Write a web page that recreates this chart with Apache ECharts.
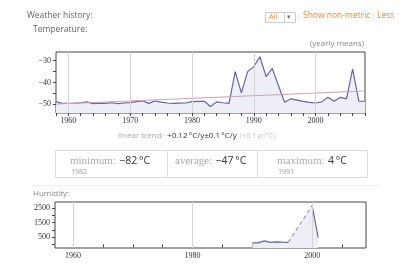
<!DOCTYPE html>
<html><head><meta charset="utf-8">
<script src="https://cdn.jsdelivr.net/npm/echarts@6/dist/echarts.min.js"></script>
<style>html,body{margin:0;padding:0;background:#fff}#c{width:420px;height:280px}</style>
</head><body><div id="c"></div>
<script>
// Temperature (yearly means, °C)
const tempYears = [1958,1959,1960,1961,1962,1963,1964,1965,1966,1967,1968,1969,1970,1971,1972,1973,1974,1975,1976,1977,1978,1979,1980,1981,1982,1983,1984,1985,1986,1987,1988,1989,1990,1991,1992,1993,1994,1995,1996,1997,1998,1999,2000,2001,2002,2003,2004,2005,2006,2007,2008];
const tempValues = [-48.8,-49.6,-49.6,-49.5,-49.3,-48.9,-49.7,-49.5,-49.6,-49.3,-49.7,-49.4,-49.2,-48.8,-48.4,-49.6,-48.5,-49.0,-49.4,-49.6,-49.5,-49.4,-48.8,-48.7,-48.6,-51.0,-48.9,-49.3,-49.6,-35.0,-44.8,-35.0,-32.7,-28.2,-37.3,-33.5,-41.5,-49.1,-47.5,-48.1,-48.7,-49.1,-49.4,-48.9,-46.8,-48.6,-46.8,-47.5,-33.8,-48.6,-48.6];
const trendYears = [1958, 2008];
const trendValues = [-49.9, -43.9];
const tempXLabels = [1960,1970,1980,1990,2000];
const tempXTicks = [1958,1960,1962,1964,1966,1968,1970,1972,1974,1976,1978,1980,1982,1984,1986,1988,1990,1992,1994,1996,1998,2000,2002,2004,2006,2008];
const tempYLabels = [-50,-40,-30];
const tempYTicks = [-50,-45,-40,-35,-30];
// Humidity
const humYearsA = [1990,1991,1992,1993,1994,1995,1996];
const humValuesA = [100,100,240,140,170,150,140];
const humYearsGap = [1996,2000];
const humValuesGap = [140,2680];
const humYearsB = [2000,2001];
const humValuesB = [2680,470];
const humXLabels = [1960,1980,2000];
const humXTicks = [1960,1965,1970,1975,1980,1985,1990,1995,2000,2005];
const humYLabels = [500,1500,2500];
const humYTicks = [0,500,1000,1500,2000,2500];

const pairs = (xs, ys) => xs.map((x, i) => [x, ys[i]]);
const LINE = '#66669a', FILL = '#eeeef7', GRIDC = '#d4d4d4', FRAME = '#444';
const SERIF = '"Liberation Serif", "DejaVu Serif", serif';
const SANS = '"Open Sans", "DejaVu Sans", sans-serif';
const ORANGE = '#e3893f';

const chart = echarts.init(document.getElementById('c'), null, {renderer: 'canvas'});
const vline = (vals) => ({
  silent: true, symbol: ['none','none'], label: {show: false},
  lineStyle: {color: GRIDC, width: 1, type: 'solid'},
  data: vals.map(v => ({xAxis: v}))
});
chart.setOption({
  animation: false,
  grid: [
    {left: 56, top: 52, width: 309, height: 61, show: true, borderColor: FRAME, borderWidth: 1, backgroundColor: 'transparent'},
    {left: 55, top: 202, width: 311, height: 46, show: true, borderColor: FRAME, borderWidth: 1, backgroundColor: 'transparent'}
  ],
  xAxis: [
    {type: 'value', gridIndex: 0, min: 1958, max: 2008,
     axisLine: {show: false}, splitLine: {show: false},
     axisTick: {show: true, inside: false, length: 3, lineStyle: {color: FRAME}, customValues: tempXTicks},
     axisLabel: {customValues: tempXLabels, margin: 4, color: '#333', fontFamily: SERIF, fontSize: 8, formatter: v => String(v)}},
    {type: 'value', gridIndex: 1, min: 1957, max: 2009,
     axisLine: {show: false}, splitLine: {show: false},
     axisTick: {show: true, inside: false, length: 3, lineStyle: {color: FRAME}, customValues: humXTicks},
     axisLabel: {customValues: humXLabels, margin: 4, color: '#333', fontFamily: SERIF, fontSize: 8, formatter: v => String(v)}}
  ],
  yAxis: [
    {type: 'value', gridIndex: 0, min: -54, max: -26,
     axisLine: {show: false}, splitLine: {show: false},
     axisTick: {show: true, inside: false, length: 3, lineStyle: {color: FRAME}, customValues: tempYTicks},
     axisLabel: {customValues: tempYLabels, margin: 5, color: '#333', fontFamily: SERIF, fontSize: 8, formatter: v => String(v).replace('-', '\u2212')}},
    {type: 'value', gridIndex: 1, min: -250, max: 2930,
     axisLine: {show: false}, splitLine: {show: false},
     axisTick: {show: true, inside: false, length: 3, lineStyle: {color: FRAME}, customValues: humYTicks},
     axisLabel: {customValues: humYLabels, margin: 5, color: '#333', fontFamily: SERIF, fontSize: 8, formatter: v => String(v)}}
  ],
  series: [
    {type: 'line', xAxisIndex: 0, yAxisIndex: 0, data: pairs(tempYears, tempValues),
     symbol: 'none', lineStyle: {color: LINE, width: 1.2}, areaStyle: {color: FILL, origin: 'start', opacity: 1},
     markLine: vline(tempXLabels), z: 2},
    {type: 'line', xAxisIndex: 0, yAxisIndex: 0, data: pairs(trendYears, trendValues),
     symbol: 'none', lineStyle: {color: '#c9a2b6', width: 1}, z: 3},
    {type: 'line', xAxisIndex: 1, yAxisIndex: 1, data: pairs(humYearsA, humValuesA),
     symbol: 'none', lineStyle: {color: LINE, width: 1.2}, areaStyle: {color: FILL, origin: 'start', opacity: 1},
     markLine: vline(humXLabels), z: 2},
    {type: 'line', xAxisIndex: 1, yAxisIndex: 1, data: pairs(humYearsGap, humValuesGap),
     symbol: 'none', lineStyle: {color: '#77779f', width: 1, type: [4, 3]}, areaStyle: {color: FILL, origin: 'start', opacity: 1}, z: 2},
    {type: 'line', xAxisIndex: 1, yAxisIndex: 1, data: pairs(humYearsB, humValuesB),
     symbol: 'none', lineStyle: {color: LINE, width: 1.2}, areaStyle: {color: FILL, origin: 'start', opacity: 1}, z: 2}
  ],
  graphic: [
    {type: 'text', left: 27, top: 11, style: {text: 'Weather history:', fill: '#666', font: '8.5px ' + SANS}},
    {type: 'text', left: 33, top: 25, style: {text: 'Temperature:', fill: '#666', font: '8.5px ' + SANS}},
    {type: 'rect', shape: {x: 265.5, y: 12.5, width: 30, height: 10}, style: {fill: '#fff', stroke: '#ccc', lineWidth: 1}},
    {type: 'line', shape: {x1: 284.5, y1: 12.5, x2: 284.5, y2: 22.5}, style: {stroke: '#ccc', lineWidth: 1}},
    {type: 'text', left: 269, top: 13, style: {text: 'All', fill: ORANGE, font: '7.5px ' + SANS}},
    {type: 'text', left: 287, top: 13, style: {text: '\u25BE', fill: '#777', font: '7px ' + SANS}},
    {type: 'text', left: 297, top: 12, style: {text: '|', fill: '#ddd', font: '8px ' + SANS}},
    {type: 'text', left: 303, top: 11, style: {text: 'Show non-metric', fill: ORANGE, font: '8.5px ' + SANS}},
    {type: 'text', left: 371, top: 12, style: {text: '|', fill: '#ddd', font: '8px ' + SANS}},
    {type: 'text', left: 377, top: 11, style: {text: 'Less', fill: ORANGE, font: '8.5px ' + SANS}},
    {type: 'text', left: 310, top: 40, style: {text: '(yearly means)', fill: '#888', font: '8px ' + SANS}},
    {type: 'text', left: 118, top: 130, style: {
      text: '{a|linear trend:} {b|+0.12\u2009°C/y±0.1\u2009°C/y} {c|(+8.1\u2009yr/°C)}',
      rich: {a: {fill: '#aaa', font: '8px ' + SANS}, b: {fill: '#333', font: '8px ' + SANS}, c: {fill: '#c4c4c4', font: '7px ' + SANS}}}},
    {type: 'rect', shape: {x: 55.5, y: 150.5, width: 312, height: 27}, style: {fill: 'none', stroke: '#ddd', lineWidth: 1}},
    {type: 'line', shape: {x1: 167.5, y1: 150.5, x2: 167.5, y2: 177.5}, style: {stroke: '#ddd', lineWidth: 1}},
    {type: 'line', shape: {x1: 257.5, y1: 150.5, x2: 257.5, y2: 177.5}, style: {stroke: '#ddd', lineWidth: 1}},
    {type: 'text', left: 70, top: 155, style: {text: '{a|minimum:} {b|\u221282\u2009°C}',
      rich: {a: {fill: '#aaa', font: '11px ' + SERIF}, b: {fill: '#333', font: '10.5px ' + SANS}}}},
    {type: 'text', left: 71, top: 168, style: {text: '1982', fill: '#999', font: '7px ' + SANS}},
    {type: 'text', left: 175, top: 155, style: {text: '{a|average:} {b|\u221247\u2009°C}',
      rich: {a: {fill: '#aaa', font: '11px ' + SERIF}, b: {fill: '#333', font: '10.5px ' + SANS}}}},
    {type: 'text', left: 277, top: 155, style: {text: '{a|maximum:} {b|4\u2009°C}',
      rich: {a: {fill: '#aaa', font: '11px ' + SERIF}, b: {fill: '#333', font: '10.5px ' + SANS}}}},
    {type: 'text', left: 278, top: 168, style: {text: '1991', fill: '#999', font: '7px ' + SANS}},
    {type: 'line', shape: {x1: 33, y1: 185.5, x2: 381, y2: 185.5}, style: {stroke: '#efefe2', lineWidth: 1}},
    {type: 'text', left: 33, top: 190, style: {text: 'Humidity:', fill: '#888', font: '8px ' + SANS}}
  ]
});
</script></body></html>
